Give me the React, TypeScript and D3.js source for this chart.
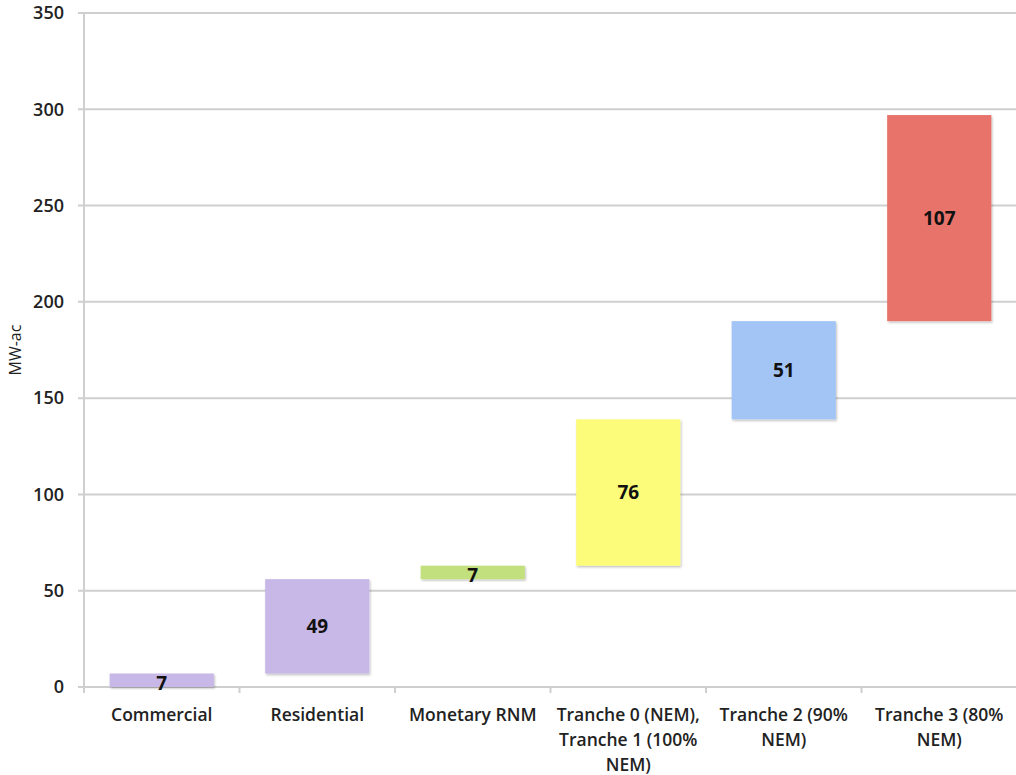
import React from "react";
import * as d3 from "d3";

const categories: string[][] = [
  ["Commercial"],
  ["Residential"],
  ["Monetary RNM"],
  ["Tranche 0 (NEM),", "Tranche 1 (100%", "NEM)"],
  ["Tranche 2 (90%", "NEM)"],
  ["Tranche 3 (80%", "NEM)"],
];
const increments = [7, 49, 7, 76, 51, 107];
const barLabels = ["7", "49", "7", "76", "51", "107"];
const barColors = ["#c8b8e8", "#c8b8e8", "#c3e07e", "#fdfb7a", "#a2c5f6", "#e8736b"];
const yTicks = [0, 50, 100, 150, 200, 250, 300, 350];

const W = 1016;
const H = 775;
const left = 84;
const right = 1017;
const top = 13;
const bottom = 687;

export default function App() {
  const x = d3
    .scaleBand<number>()
    .domain(d3.range(categories.length))
    .range([left, right])
    .paddingInner(0.33)
    .paddingOuter(0.165);
  const y = d3.scaleLinear().domain([0, 350]).range([bottom, top]);

  let cum = 0;
  const bars = increments.map((v, i) => {
    const start = cum;
    cum += v;
    return { i, start, end: cum, v };
  });
  const step = (right - left) / categories.length;
  const font = "'Open Sans', 'DejaVu Sans', sans-serif";

  return (
    <svg
      width={W}
      height={H}
      style={{ position: "absolute", left: 0, top: 0, background: "#fff" }}
      fontFamily={font}
    >
      <defs>
        <filter id="sh" x="-10%" y="-10%" width="120%" height="130%">
          <feDropShadow dx="1" dy="1.5" stdDeviation="1" floodColor="#000" floodOpacity="0.25" />
        </filter>
      </defs>
      {yTicks.map((t) => (
        <g key={t}>
          <line x1={left - 6} x2={right} y1={y(t)} y2={y(t)} stroke="#cfcfcf" strokeWidth={2} />
          <text
            x={64}
            y={y(t)}
            dy="0.35em"
            textAnchor="end"
            fontSize={18}
            fontWeight={600}
            fill="#222"
          >
            {t}
          </text>
        </g>
      ))}
      <line x1={left} x2={left} y1={top} y2={bottom + 6} stroke="#cfcfcf" strokeWidth={2} />
      {d3.range(categories.length + 1).map((k) => (
        <line
          key={k}
          x1={left + k * step}
          x2={left + k * step}
          y1={bottom}
          y2={bottom + 6}
          stroke="#cfcfcf"
          strokeWidth={2}
        />
      ))}
      <text
        transform={`translate(21,${(top + bottom) / 2}) rotate(-90)`}
        textAnchor="middle"
        fontSize={16}
        fill="#222"
      >
        MW-ac
      </text>
      {bars.map((b) => (
        <rect
          key={b.i}
          x={x(b.i)}
          y={y(b.end)}
          width={x.bandwidth()}
          height={y(b.start) - y(b.end)}
          fill={barColors[b.i]}
          filter="url(#sh)"
        />
      ))}
      {bars.map((b) => (
        <text
          key={b.i}
          x={x(b.i)! + x.bandwidth() / 2}
          y={b.v < 10 ? y(b.end) + 10 : (y(b.start) + y(b.end)) / 2}
          dy="0.35em"
          textAnchor="middle"
          fontSize={19}
          fontWeight={700}
          fill="#111"
        >
          {barLabels[b.i]}
        </text>
      ))}
      {categories.map((lines, i) => (
        <text
          key={i}
          x={x(i)! + x.bandwidth() / 2}
          textAnchor="middle"
          fontSize={17.5}
          fontWeight={600}
          fill="#222"
        >
          {lines.map((l, j) => (
            <tspan key={j} x={x(i)! + x.bandwidth() / 2} y={721 + j * 25}>
              {l}
            </tspan>
          ))}
        </text>
      ))}
    </svg>
  );
}
